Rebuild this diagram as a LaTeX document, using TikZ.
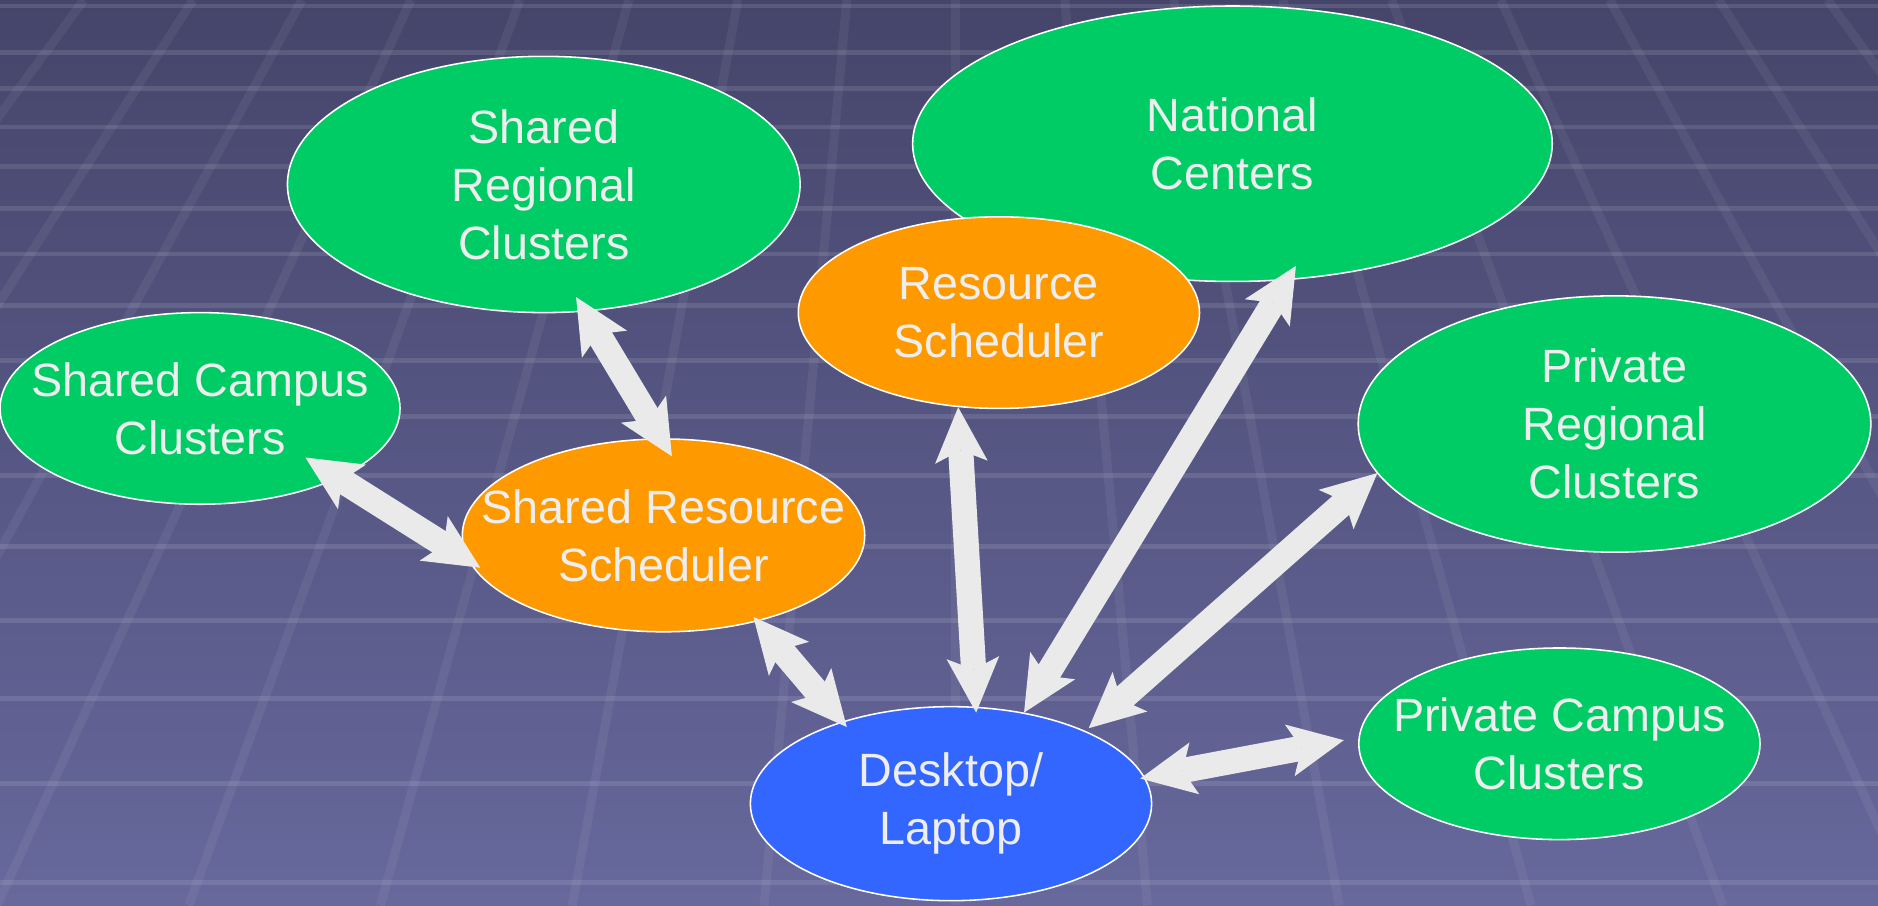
\documentclass[tikz,border=0pt]{standalone}
\usepackage{fontspec}
\setmainfont{Liberation Sans}
\usetikzlibrary{arrows.meta,calc,shapes.geometric}
\definecolor{bgtop}{HTML}{45456B}
\definecolor{bgbot}{HTML}{67689C}
\definecolor{nodegreen}{HTML}{00CC66}
\definecolor{nodeorange}{HTML}{FF9900}
\definecolor{nodeblue}{HTML}{3366FF}
\definecolor{txtgray}{HTML}{EEEEEE}
\definecolor{arrowgray}{HTML}{EAEAEA}
\tikzset{
  bubble/.style={ellipse, draw=white, line width=1.3pt, inner sep=-300pt, outer sep=0pt,
    text=txtgray, align=center, font=\fontsize{39}{48.5}\selectfont},
  greenbubble/.style={bubble, fill=nodegreen},
  orangebubble/.style={bubble, fill=nodeorange},
  bluebubble/.style={bubble, fill=nodeblue},
  fatarrow/.style={line width=21pt, draw=arrowgray,
    >={Stealth[length=46pt,width=44pt,inset=10pt,line width=0pt]}, <->},
  gridv/.style={line width=7.5pt, draw=white, draw opacity=0.06},
  gridh/.style={line width=4pt, draw=white, draw opacity=0.11}
}
\begin{document}
\begin{tikzpicture}[x=1pt,y=-1pt]
\useasboundingbox (0,0) rectangle (1568,756);
% background
\shade[top color=bgtop, bottom color=bgbot] (0,0) rectangle (1568,756);
\begin{scope}
\clip (0,0) rectangle (1568,756);
\foreach \k in {-8,...,8}
  \draw[gridv] ({798+91*\k},0) -- ({798+160.1*\k},756);
\foreach \yy in {5,44,74,106,139,174,212,255,301,348,397,456,518,583,654,737}
  \draw[gridh] (0,\yy) -- (1568,\yy);
\end{scope}
% nodes
\node[greenbubble, minimum width=428pt, minimum height=214pt] (SR) at (454,154) {Shared\\Regional\\Clusters};
\node[greenbubble, minimum width=534pt, minimum height=230pt] (NC) at (1029,120) {National\\Centers};
\node[orangebubble, minimum width=335pt, minimum height=160pt] (RS) at (834,261) {Resource\\Scheduler};
\node[greenbubble, minimum width=334pt, minimum height=160pt] (SC) at (167,341) {Shared Campus\\Clusters};
\node[orangebubble, minimum width=336pt, minimum height=161pt] (SRS) at (554,447) {Shared Resource\\Scheduler};
\node[greenbubble, minimum width=428pt, minimum height=214pt] (PR) at (1348,354) {Private\\Regional\\Clusters};
\node[greenbubble, minimum width=335pt, minimum height=160pt] (PC) at (1302,621) {Private Campus\\Clusters};
\node[bluebubble, minimum width=335pt, minimum height=162pt] (DL) at (794,671) {Desktop/\\Laptop};
% connectors
\draw[fatarrow] ($(SR.center)+(27,94)$) -- ($(SRS.center)+(7,-66)$);
\draw[fatarrow] ($(SC.center)+(88,41)$) -- ($(SRS.center)+(-153,27)$);
\draw[fatarrow] ($(SRS.center)+(75,68)$) -- ($(DL.center)+(-87,-64)$);
\draw[fatarrow] ($(RS.center)+(-34,79)$) -- ($(DL.center)+(21,-76)$);
\draw[fatarrow] ($(NC.center)+(53,102)$) -- ($(DL.center)+(61,-76)$);
\draw[fatarrow] ($(PR.center)+(-198,41)$) -- ($(DL.center)+(115,-63)$);
\draw[fatarrow] ($(PC.center)+(-180,-3)$) -- ($(DL.center)+(158,-21)$);
\end{tikzpicture}
\end{document}
